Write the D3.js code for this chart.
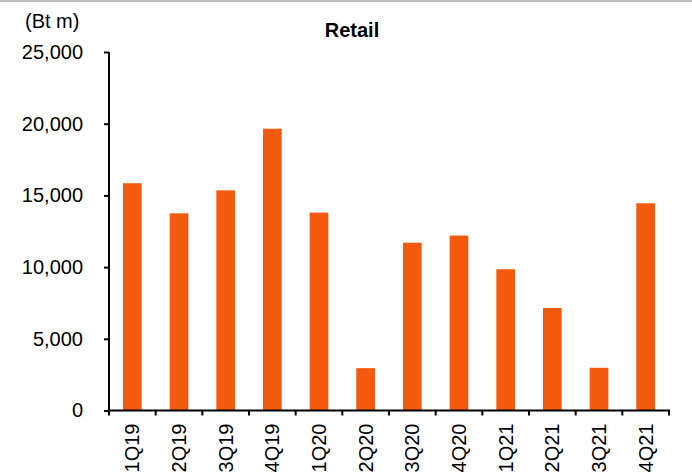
<!DOCTYPE html>
<html><head><meta charset="utf-8">
<script src="https://cdn.jsdelivr.net/npm/d3@7"></script>
<style>
html,body{margin:0;padding:0;background:#fff;}
svg{display:block;font-family:"Liberation Sans",Arial,sans-serif;}
</style></head>
<body>
<svg id="chart" width="692" height="475"></svg>
<script>
const categories = ["1Q19","2Q19","3Q19","4Q19","1Q20","2Q20","3Q20","4Q20","1Q21","2Q21","3Q21","4Q21"];
const retail = [15850, 13750, 15350, 19650, 13800, 2950, 11700, 12200, 9850, 7150, 2980, 14450];
const yTicks = [0, 5000, 10000, 15000, 20000, 25000];
const yUnit = "(Bt m)";
const title = "Retail";

const svg = d3.select("#chart");
const barColor = "#F45A0D";

svg.append("rect").attr("x",0).attr("y",0).attr("width",692).attr("height",2).attr("fill","#c0c0c0");

const x = d3.scaleBand().domain(categories).range([109, 669]).paddingInner(0.6).paddingOuter(0.3);
const y = d3.scaleLinear().domain([0, 25000]).range([410.5, 52]);

svg.append("g").selectAll("rect").data(retail).join("rect")
  .attr("x", (d,i) => x(categories[i]))
  .attr("y", d => y(d))
  .attr("width", x.bandwidth())
  .attr("height", d => y(0) - y(d))
  .attr("fill", barColor);

// y axis
const yAxis = svg.append("g").attr("transform","translate(109,0)")
  .call(d3.axisLeft(y).tickValues(yTicks).tickSize(5).tickPadding(21).tickFormat(d3.format(",")));
yAxis.select(".domain").attr("d", `M0,${y(25000)}V${y(0)}`).attr("stroke","#000").attr("stroke-width",2);
yAxis.selectAll(".tick line").attr("stroke","#000").attr("stroke-width",2);
yAxis.selectAll("text").attr("font-size",20).attr("fill","#000").attr("font-family","Liberation Sans, Arial, sans-serif");

// x axis (ticks at band boundaries)
const xg = svg.append("g").attr("transform",`translate(0,${y(0)})`);
xg.append("line").attr("x1",108).attr("x2",670).attr("y1",0).attr("y2",0).attr("stroke","#000").attr("stroke-width",2);
const step = x.step();
const boundaries = d3.range(categories.length + 1).map(i => 109 + i * (560/12));
xg.selectAll("line.tk").data(boundaries).join("line").attr("class","tk")
  .attr("x1", d => d).attr("x2", d => d).attr("y1", 0).attr("y2", 5)
  .attr("stroke","#000").attr("stroke-width",2);
xg.selectAll("text").data(categories).join("text")
  .attr("transform", d => `translate(${x(d) + x.bandwidth()/2},13) rotate(-90)`)
  .attr("text-anchor","end").attr("dy","0.35em")
  .attr("font-size",20).attr("fill","#000")
  .text(d => d);

svg.append("text").attr("x",25).attr("y",28).attr("font-size",20).attr("fill","#000").text(yUnit);
svg.append("text").attr("x",352).attr("y",37).attr("text-anchor","middle").attr("font-size",20).attr("font-weight","bold").attr("fill","#000").text(title);
</script>
</body></html>
